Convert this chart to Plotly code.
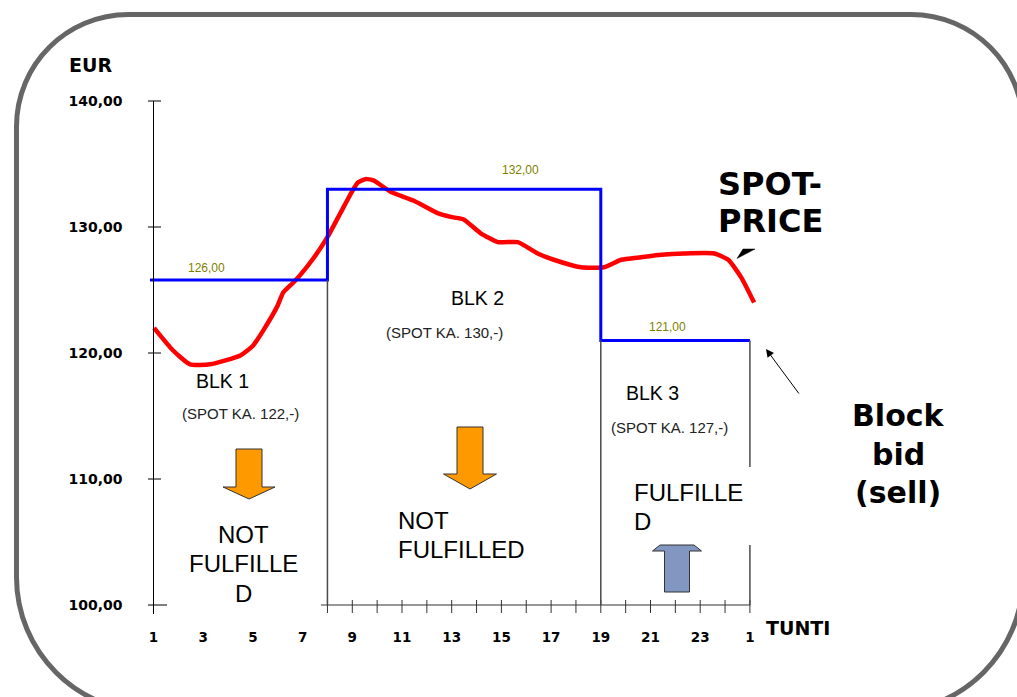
import plotly.graph_objects as go

W, H = 1017, 697

# ---------------- data ----------------
hours = [1.02, 1.79, 2.47, 3.28, 4.49, 5.01, 5.42, 5.98, 6.22, 6.63,
         6.91, 7.43, 8.0, 8.52, 9.21, 9.53, 9.85, 10.54, 11.46, 12.43,
         12.96, 13.48, 14.17, 14.86, 15.66, 16.46, 17.11, 18.2, 19.13, 19.82,
         20.62, 21.43, 22.35, 23.56, 24.13, 24.65, 25.17]
spot_price = [122.0, 120.2, 119.1, 119.1, 119.8, 120.6, 121.8, 123.7, 124.8, 125.6,
              126.2, 127.5, 129.2, 131.1, 133.5, 133.8, 133.7, 132.8, 132.1, 131.1,
              130.8, 130.6, 129.5, 128.8, 128.8, 127.9, 127.4, 126.8, 126.8, 127.4,
              127.6, 127.8, 127.9, 127.9, 127.4, 126.0, 124.0]

block_start = [1, 8, 19]
block_end = [8, 19, 25]
block_price = [125.8, 133.0, 121.0]
block_price_labels = ["126,00", "132,00", "121,00"]
block_names = ["BLK 1", "BLK 2", "BLK 3"]
block_spot_notes = ["(SPOT KA. 122,-)", "(SPOT KA. 130,-)", "(SPOT KA. 127,-)"]

x_tick_vals = [1, 3, 5, 7, 9, 11, 13, 15, 17, 19, 21, 23, 25]
x_tick_text = ["1", "3", "5", "7", "9", "11", "13", "15", "17", "19", "21", "23", "1"]
x_minor_ticks = list(range(8, 26))
y_tick_vals = [100, 110, 120, 130, 140]
y_tick_text = ["100,00", "110,00", "120,00", "130,00", "140,00"]

# ---------------- pixel geometry helpers ----------------
X1, KX = 153.5, 24.85     # pixel of hour 1, pixels per hour
Y100, KY = 605.0, 12.6    # pixel of 100 EUR, pixels per EUR


def hx(px):
    return 1 + (px - X1) / KX


def vy(py):
    return 100 + (Y100 - py) / KY


def P(px, py):
    return px / W, 1 - py / H


fig = go.Figure()

# spot price curve
fig.add_trace(go.Scatter(x=hours, y=spot_price, mode="lines",
                         line=dict(color="#FF0000", width=4.5, shape="spline", smoothing=0.5),
                         hoverinfo="skip", showlegend=False))

# block bids (blue step line)
bx, by = [hx(150)], [block_price[0]]
for i, (s, e, p) in enumerate(zip(block_start, block_end, block_price)):
    if i > 0:
        bx.append(s)
        by.append(p)
    bx.append(e)
    by.append(p)
    if i < len(block_price) - 1:
        bx.append(e)
        by.append(p)
fig.add_trace(go.Scatter(x=bx, y=by, mode="lines", line=dict(color="#0000FF", width=3),
                         hoverinfo="skip", showlegend=False))

shapes = []
axc = "#000000"
gray = "#4a4a4a"
# y axis line + ticks
shapes.append(dict(type="line", xref="x", yref="y", x0=1, x1=1, y0=140, y1=vy(614),
                   line=dict(color=axc, width=1)))
for v in y_tick_vals:
    shapes.append(dict(type="line", xref="x", yref="y", x0=hx(148), x1=hx(167 if v == 100 else 161),
                       y0=v, y1=v, line=dict(color=axc, width=1)))
# x axis line + ticks
shapes.append(dict(type="line", xref="x", yref="y", x0=hx(321), x1=25, y0=100, y1=100,
                   line=dict(color="#333333", width=1.2)))
for h in x_minor_ticks:
    shapes.append(dict(type="line", xref="x", yref="y", x0=h, x1=h, y0=vy(600), y1=vy(613),
                       line=dict(color="#333333", width=1)))
# block boundary lines
shapes.append(dict(type="line", xref="x", yref="y", x0=8, x1=8, y0=block_price[0], y1=100,
                   line=dict(color=gray, width=1.5)))
shapes.append(dict(type="line", xref="x", yref="y", x0=19, x1=19, y0=block_price[2], y1=100,
                   line=dict(color=gray, width=1.5)))
shapes.append(dict(type="line", xref="x", yref="y", x0=25, x1=25, y0=block_price[2], y1=vy(467),
                   line=dict(color=gray, width=1.5)))
shapes.append(dict(type="line", xref="x", yref="y", x0=25, x1=25, y0=vy(545), y1=100,
                   line=dict(color=gray, width=1.5)))


def down_arrow(c, top, neck, tip, sw=13, hw=26):
    s, h = sw / KX, hw / KX
    pts = [(c - s, top), (c + s, top), (c + s, neck), (c + h, neck), (c, tip),
           (c - h, neck), (c - s, neck)]
    return "M " + " L ".join(f"{x},{y}" for x, y in pts) + " Z"


shapes.append(dict(type="path", xref="x", yref="y",
                   path=down_arrow(hx(249), vy(449), vy(487), vy(499)),
                   fillcolor="#FF9900", line=dict(color="#333333", width=1)))
shapes.append(dict(type="path", xref="x", yref="y",
                   path=down_arrow(hx(470), vy(427), vy(474), vy(489), sw=13, hw=26.5),
                   fillcolor="#FF9900", line=dict(color="#333333", width=1)))
# up arrow (fulfilled)
c = hx(677)
pts = [(c - 12.5 / KX, vy(592)), (c + 12.5 / KX, vy(592)), (c + 12.5 / KX, vy(551)),
       (c + 24.5 / KX, vy(551)), (c + 17 / KX, vy(545)), (c - 17 / KX, vy(545)),
       (c - 24.5 / KX, vy(551)), (c - 12.5 / KX, vy(551))]
shapes.append(dict(type="path", xref="x", yref="y",
                   path="M " + " L ".join(f"{x},{y}" for x, y in pts) + " Z",
                   fillcolor="#8197C2", line=dict(color="#333333", width=1)))

# spot-price arrowhead
tri = [P(743, 249), P(755, 249), P(737, 258.5)]
shapes.append(dict(type="path", xref="paper", yref="paper",
                   path="M " + " L ".join(f"{x},{y}" for x, y in tri) + " Z",
                   fillcolor="#000000", line=dict(color="#000000", width=0.5)))

# rounded frame (bottom edge lies below the visible page)
x0, y0, x1, y1 = 16.5, 14.5, 1023, 712
rt, rb = 112, 135
kt, kb = 0.5523 * rt, 0.5523 * rb
seq = [("M", [(x0 + rt, y0)]), ("L", [(x1 - rt, y0)]),
       ("C", [(x1 - rt + kt, y0), (x1, y0 + rt - kt), (x1, y0 + rt)]),
       ("L", [(x1, y1 - rb)]),
       ("C", [(x1, y1 - rb + kb), (x1 - rb + kb, y1), (x1 - rb, y1)]),
       ("L", [(x0 + rb, y1)]),
       ("C", [(x0 + rb - kb, y1), (x0, y1 - rb + kb), (x0, y1 - rb)]),
       ("L", [(x0, y0 + rt)]),
       ("C", [(x0, y0 + rt - kt), (x0 + rt - kt, y0), (x0 + rt, y0)])]
path = ""
for cmd, pp in seq:
    path += cmd + " " + " ".join("%.5f,%.5f" % P(a, b) for a, b in pp) + " "
path += "Z"
shapes.append(dict(type="path", xref="paper", yref="paper", path=path,
                   line=dict(color="#666666", width=5), fillcolor="rgba(0,0,0,0)"))

# ---------------- annotations ----------------
ann = []
REG = "Liberation Sans"
BOLD = "DejaVu Sans"


def txt(text, px, py, size, family=REG, color="#000000", xanchor="center", bold=False):
    x, y = P(px, py)
    ann.append(dict(text=text, x=x, y=y, xref="paper", yref="paper", showarrow=False,
                    xanchor=xanchor, yanchor="middle",
                    font=dict(family=family, size=size, color=color,
                              weight="bold" if bold else "normal")))


# block price labels
for t, (px, py) in zip(block_price_labels, [(206, 268), (520, 170), (667, 327)]):
    txt(t, px, py, 12, color="#7F7F00")
# block names and notes
for t, (px, py) in zip(block_names, [(222, 381), (477, 298), (652, 393)]):
    txt(t, px, py, 19.5)
for t, (px, py) in zip(block_spot_notes, [(240, 413), (444, 332), (669, 427)]):
    txt(t, px, py, 15, color="#222222")
# outcomes
for t, py in zip(["NOT", "FULFILLE", "D"], [534, 563, 593]):
    txt(t, 243, py, 24)
for t, py in zip(["NOT", "FULFILLED"], [520, 549]):
    txt(t, 396, py, 24, xanchor="left")
for t, py in zip(["FULFILLE", "D"], [492, 521]):
    txt(t, 632, py, 24, xanchor="left")
# big labels
for t, py in zip(["SPOT-", "PRICE"], [184, 221]):
    txt(t, 716, py, 32, family=BOLD, xanchor="left", bold=True)
for t, py in zip(["Block", "bid", "(sell)"], [415, 454, 492]):
    txt(t, 898, py, 30, family=BOLD, bold=True)
txt("EUR", 90, 65, 19, family=BOLD, bold=True)
txt("TUNTI", 798, 628, 19, family=BOLD, bold=True)

# block bid arrow
ax_, ay_ = P(766, 349)
ann.append(dict(text="", x=ax_, y=ay_, xref="paper", yref="paper", showarrow=True,
                ax=34, ay=46, arrowhead=2, arrowsize=1.6, arrowwidth=1,
                arrowcolor="#000000", standoff=0))

fig.update_layout(
    width=W, height=H, autosize=False,
    margin=dict(l=0, r=0, t=0, b=0, pad=0),
    paper_bgcolor="#FFFFFF", plot_bgcolor="#FFFFFF",
    shapes=shapes, annotations=ann, showlegend=False,
    xaxis=dict(range=[hx(0), hx(W)], anchor="free", position=(H - Y100) / H,
               showgrid=False, zeroline=False, showline=False, ticks="",
               tickvals=x_tick_vals, ticktext=x_tick_text, ticklabelstandoff=22,
               tickfont=dict(family="DejaVu Sans", size=13.5, color="#000000", weight="bold"),
               fixedrange=True),
    yaxis=dict(range=[vy(H), vy(0)], anchor="free", position=X1 / W,
               showgrid=False, zeroline=False, showline=False, ticks="",
               tickvals=y_tick_vals, ticktext=y_tick_text, ticklabelstandoff=31,
               tickfont=dict(family="DejaVu Sans", size=14, color="#000000", weight="bold"),
               fixedrange=True),
)

fig.write_html("out.html", config={"displayModeBar": False},
               post_script="document.body.style.margin='0';document.body.style.padding='0';")
